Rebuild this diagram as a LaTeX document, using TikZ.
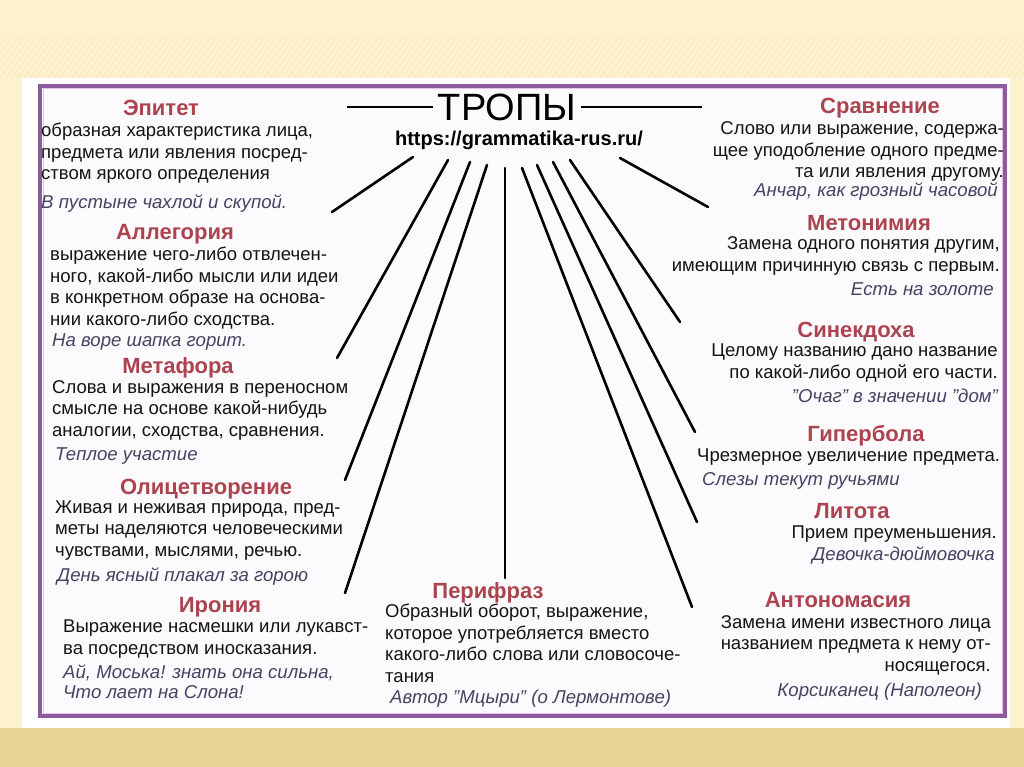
\documentclass[tikz,border=0pt]{standalone}
\usepackage{fontspec}
\setmainfont{Liberation Sans}
\usetikzlibrary{calc}
\definecolor{cream}{RGB}{253,242,205}
\definecolor{gold}{RGB}{234,213,152}
\definecolor{stripe}{RGB}{238,222,170}
\definecolor{framec}{RGB}{142,92,156}
\definecolor{framein}{RGB}{236,190,236}
\definecolor{trred}{RGB}{172,68,80}
\definecolor{ink}{RGB}{20,20,20}
\definecolor{expl}{RGB}{72,66,98}

\begin{document}
\begin{tikzpicture}[x=1pt,y=-1pt,
  ttl/.style={font=\bfseries\fontsize{22}{22}\selectfont,text=trred,inner sep=0pt,anchor=base},
  txt/.style={font=\fontsize{18.5}{21.5}\selectfont,text=ink,inner sep=0pt},
  lft/.style={txt,align=left,anchor=base west},
  rgt/.style={txt,align=right,anchor=base east},
  exl/.style={font=\itshape\fontsize{18.6}{20}\selectfont,text=expl,inner sep=0pt,align=left,anchor=base west},
  exr/.style={exl,align=right,anchor=base east},
  ray/.style={line width=2.6pt,line cap=round}]
\useasboundingbox (0,0) rectangle (1024,767);

% slide background and panel
\fill[cream] (0,0) rectangle (1024,767);
\fill[gold] (0,728) rectangle (1024,767);
\foreach \k in {0,6,...,1080}
  \draw[stripe,opacity=0.6,line width=0.6pt] (\k-30,78) -- (\k,38);
\fill[white] (22,78) rectangle (1010,728);
\draw[framec,line width=4pt,fill=white!97!framec] (40,86) rectangle (1005,716);
\draw[framein,line width=1pt] (43,89) rectangle (1002,713);

% header
\node[font=\fontsize{38}{38}\selectfont,inner sep=0pt] (tropy) at (507,107) {ТРОПЫ};
\node[font=\bfseries\fontsize{20}{20}\selectfont,inner sep=0pt] (url) at (519,140) {https://grammatika-rus.ru/};
\coordinate (ruleL) at (347,107);
\coordinate (ruleR) at (702,107);
\draw[line width=2.5pt] (ruleL) -- ([xshift=-5pt]tropy.west);
\draw[line width=2.5pt] ([xshift=5pt]tropy.east) -- (ruleR);

% rays from the header (nodes are placed by the baseline of their last line)
\foreach \i/\sx/\sy/\ex/\ey in {%
  1/413/157/332/212, 2/448/160/337/358, 3/470/162/345/480,
  4/487/165/345/593, 5/505/168/505/578, 6/522/168/692/607,
  7/537/165/697/522, 8/553/162/695/432, 9/570/160/680/322,
  10/620/158/708/207}{%
  \coordinate (s\i) at (\sx,\sy);
  \coordinate (e\i) at (\ex,\ey);
  \draw[ray] (s\i) -- (e\i);
}

% left column
\node[ttl] (epitet) at (161,116) {Эпитет};
\node[lft] (epitetT) at (41,180) {образная характеристика лица,\\предмета или явления посред-\\ством яркого определения};
\node[exl] (epitetE) at (41,209) {В пустыне чахлой и скупой.};

\node[ttl] (allegor) at (175,240) {Аллегория};
\node[lft] (allegorT) at (50,325) {выражение чего-либо отвлечен-\\ного, какой-либо мысли или идеи\\в конкретном образе на основа-\\нии какого-либо сходства.};
\node[exl] (allegorE) at (52,346) {На воре шапка горит.};

\node[ttl] (metafora) at (178,373) {Метафора};
\node[lft] (metaforaT) at (52,436) {Слова и выражения в переносном\\смысле на основе какой-нибудь\\аналогии, сходства, сравнения.};
\node[exl] (metaforaE) at (55,460) {Теплое участие};

\node[ttl] (olicetv) at (206,494) {Олицетворение};
\node[lft] (olicetvT) at (55,556) {Живая и неживая природа, пред-\\меты наделяются человеческими\\чувствами, мыслями, речью.};
\node[exl] (olicetvE) at (57,581) {День ясный плакал за горою};

\node[ttl] (ironia) at (220,612) {Ирония};
\node[lft] (ironiaT) at (63,654) {Выражение насмешки или лукавст-\\ва посредством иносказания.};
\node[exl] (ironiaE) at (63,698) {Ай, Моська! знать она сильна,\\Что лает на Слона!};

% bottom centre
\node[ttl] (perifraz) at (488,598) {Перифраз};
\node[lft] (perifrazT) at (385,682) {Образный оборот, выражение,\\которое употребляется вместо\\какого-либо слова или словосоче-\\тания};
\node[exl] (perifrazE) at (390,703) {Автор "Мцыри" (о Лермонтове)};

% right column
\node[ttl] (sravn) at (880,114) {Сравнение};
\node[rgt] (sravnT) at (1004,178) {Слово или выражение, содержа-\\щее уподобление одного предме-\\та или явления другому.};
\node[exr] (sravnE) at (998,197) {Анчар, как грозный часовой};

\node[ttl] (metonim) at (869,230) {Метонимия};
\node[rgt] (metonimT) at (1000,271) {Замена одного понятия другим,\\имеющим причинную связь с первым.};
\node[exr] (metonimE) at (994,295) {Есть на золоте};

\node[ttl] (sinekd) at (856,337) {Синекдоха};
\node[rgt] (sinekdT) at (998,378) {Целому названию дано название\\по какой-либо одной его части.};
\node[exr] (sinekdE) at (998,402) {"Очаг" в значении "дом"};

\node[ttl] (giperb) at (866,441) {Гипербола};
\node[lft] (giperbT) at (697,461) {Чрезмерное увеличение предмета.};
\node[exl] (giperbE) at (702,485) {Слезы текут ручьями};

\node[ttl] (litota) at (852,518) {Литота};
\node[rgt] (litotaT) at (997,538) {Прием преуменьшения.};
\node[exr] (litotaE) at (995,560) {Девочка-дюймовочка};

\node[ttl] (antonom) at (838,607) {Антономасия};
\node[rgt] (antonomT) at (991,671) {Замена имени известного лица\\названием предмета к нему от-\\носящегося.};
\node[exr] (antonomE) at (982,696) {Корсиканец (Наполеон)};

\end{tikzpicture}
\end{document}
